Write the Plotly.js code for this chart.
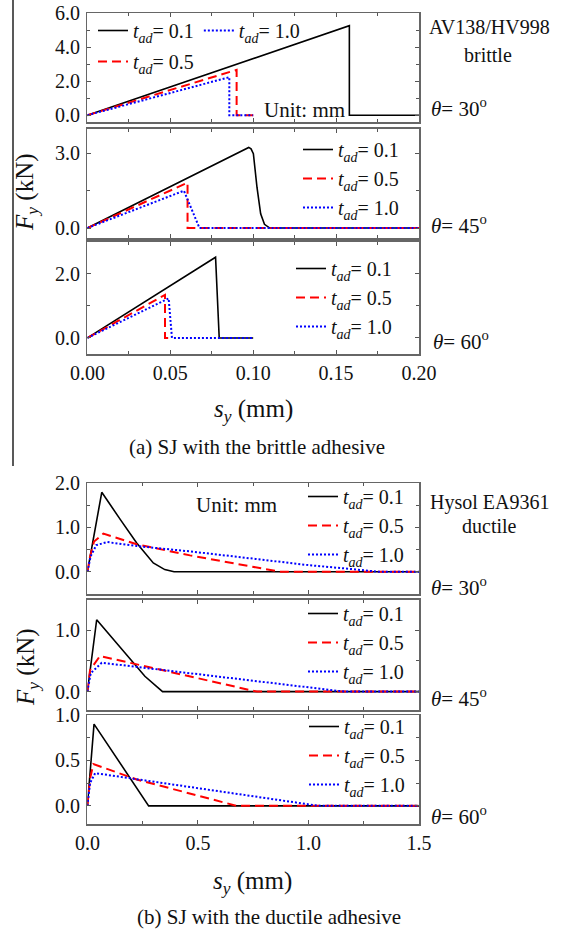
<!DOCTYPE html>
<html>
<head>
<meta charset="utf-8">
<script src="https://cdn.plot.ly/plotly-3.0.1.min.js"></script>
<style>
html,body{margin:0;padding:0;background:#fff;}
#chart{width:571px;height:930px;}
</style>
</head>
<body>
<div id="chart"></div>
<script>
// ---------- DATA ----------
// (a) brittle adhesive AV138/HV998, s_y in mm, F_y in kN
const A30_T01_X = [0, 0.158, 0.158, 0.2];
const A30_T01_Y = [0, 5.27, 0, 0];
const A30_T05_X = [0, 0.090, 0.090, 0.1];
const A30_T05_Y = [0, 2.67, 0, 0];
const A30_T10_X = [0, 0.0856, 0.0856, 0.1];
const A30_T10_Y = [0, 2.24, 0, 0];

const A45_T01_X = [0, 0.0973, 0.0987, 0.1001, 0.1023, 0.1045, 0.1068, 0.1089, 0.110, 0.2];
const A45_T01_Y = [0, 3.24, 3.18, 2.99, 1.63, 0.57, 0.15, 0.03, 0, 0];
const A45_T05_X = [0, 0.0604, 0.0604, 0.2];
const A45_T05_Y = [0, 1.82, 0, 0];
const A45_T10_X = [0, 0.0582, 0.0676, 0.2];
const A45_T10_Y = [0, 1.50, 0, 0];

const A60_T01_X = [0, 0.0773, 0.0795, 0.1];
const A60_T01_Y = [0, 2.51, 0, 0];
const A60_T05_X = [0, 0.0468, 0.0468, 0.05];
const A60_T05_Y = [0, 1.34, 0, 0];
const A60_T10_X = [0, 0.049, 0.051, 0.1];
const A60_T10_Y = [0, 1.23, 0, 0];

// (b) ductile adhesive Hysol EA9361
const B30_T01_X = [0, 0.065, 0.15, 0.223, 0.298, 0.35, 0.392, 1.5];
const B30_T01_Y = [0, 1.79, 1.17, 0.65, 0.20, 0.05, 0, 0];
const B30_T05_X = [0, 0.01, 0.03, 0.072, 0.223, 0.464, 0.873, 1.5];
const B30_T05_Y = [0, 0.30, 0.68, 0.86, 0.62, 0.37, 0, 0];
const B30_T10_X = [0, 0.015, 0.04, 0.09, 0.223, 0.464, 0.76, 1.0, 1.2, 1.318, 1.5];
const B30_T10_Y = [0, 0.35, 0.60, 0.67, 0.58, 0.46, 0.29, 0.15, 0.06, 0, 0];

const B45_T01_X = [0, 0.042, 0.26, 0.34, 1.5];
const B45_T01_Y = [0, 1.17, 0.25, 0, 0];
const B45_T05_X = [0, 0.012, 0.057, 0.766, 1.5];
const B45_T05_Y = [0, 0.35, 0.58, 0, 0];
const B45_T10_X = [0, 0.015, 0.065, 1.161, 1.5];
const B45_T10_Y = [0, 0.30, 0.47, 0, 0];

const B60_T01_X = [0, 0.030, 0.277, 1.5];
const B60_T01_Y = [0, 0.90, 0, 0];
const B60_T05_X = [0, 0.012, 0.027, 0.223, 0.675, 1.5];
const B60_T05_Y = [0, 0.30, 0.46, 0.29, 0, 0];
const B60_T10_X = [0, 0.012, 0.035, 1.046, 1.5];
const B60_T10_Y = [0, 0.25, 0.36, 0, 0];

const SERIES_NAMES = ['<i>t</i><sub><i>ad</i></sub>= 0.1', '<i>t</i><sub><i>ad</i></sub>= 0.5', '<i>t</i><sub><i>ad</i></sub>= 1.0'];
const ANGLE_LABELS = ['<i>θ</i>= 30<sup>o</sup>', '<i>θ</i>= 45<sup>o</sup>', '<i>θ</i>= 60<sup>o</sup>'];

// ---------- STYLE / LAYOUT ----------
const FONT = 'Liberation Serif';
const W = 571, H = 930;
const px2x = p => p / W;
const px2y = p => 1 - p / H;

const STYLES = [
  {color: '#000000', width: 1.6, dash: 'solid'},
  {color: '#ff0000', width: 2, dash: '9px,5px'},
  {color: '#0000ff', width: 2, dash: '2px,2px'}
];

const panels = [
  {sets: [[A30_T01_X, A30_T01_Y], [A30_T05_X, A30_T05_Y], [A30_T10_X, A30_T10_Y]], legends: ['legend', 'legend2', 'legend']},
  {sets: [[A45_T01_X, A45_T01_Y], [A45_T05_X, A45_T05_Y], [A45_T10_X, A45_T10_Y]], legends: ['legend3', 'legend3', 'legend3']},
  {sets: [[A60_T01_X, A60_T01_Y], [A60_T05_X, A60_T05_Y], [A60_T10_X, A60_T10_Y]], legends: ['legend4', 'legend4', 'legend4']},
  {sets: [[B30_T01_X, B30_T01_Y], [B30_T05_X, B30_T05_Y], [B30_T10_X, B30_T10_Y]], legends: ['legend5', 'legend5', 'legend5']},
  {sets: [[B45_T01_X, B45_T01_Y], [B45_T05_X, B45_T05_Y], [B45_T10_X, B45_T10_Y]], legends: ['legend6', 'legend6', 'legend6']},
  {sets: [[B60_T01_X, B60_T01_Y], [B60_T05_X, B60_T05_Y], [B60_T10_X, B60_T10_Y]], legends: ['legend7', 'legend7', 'legend7']}
];

const Y_PX = [[13.3, 122], [128.5, 238], [241.5, 354], [483, 594], [599.5, 710], [715, 824]];
const Y_RANGE = [[-0.4, 6], [-0.4, 4], [-0.5, 3], [-0.5, 2], [-0.3, 1.5], [-0.2, 1]];
const Y_DTICK = [2, 3, 2, 1, 1, 0.5];
const Y_MINOR = [1, 1.5, 1, 0.5, 0.5, 0.25];
const X_DOMAIN = [px2x(87.4), px2x(419)];

const traces = [];
panels.forEach((p, i) => {
  const xs = i === 0 ? 'x' : 'x' + (i + 1);
  const ys = i === 0 ? 'y' : 'y' + (i + 1);
  p.sets.forEach((s, k) => {
    traces.push({
      type: 'scatter', mode: 'lines', x: s[0], y: s[1],
      xaxis: xs, yaxis: ys, name: SERIES_NAMES[k], legend: p.legends[k],
      line: {color: STYLES[k].color, width: STYLES[k].width, dash: STYLES[k].dash},
      hoverinfo: 'skip'
    });
  });
});

const layout = {
  width: W, height: H,
  margin: {l: 0, r: 0, t: 0, b: 0},
  paper_bgcolor: '#ffffff', plot_bgcolor: '#ffffff',
  font: {family: FONT, size: 20, color: '#111'},
  showlegend: true,
  annotations: [], shapes: []
};

const tickFont = {family: FONT, size: 20, color: '#111'};
for (let i = 0; i < 6; i++) {
  const isB = i >= 3;
  const bottom = (i === 2 || i === 5);
  const xk = i === 0 ? 'xaxis' : 'xaxis' + (i + 1);
  const yk = i === 0 ? 'yaxis' : 'yaxis' + (i + 1);
  const ya = i === 0 ? 'y' : 'y' + (i + 1);
  const xa = i === 0 ? 'x' : 'x' + (i + 1);
  layout[xk] = {
    domain: X_DOMAIN, anchor: ya,
    range: isB ? [0, 1.5] : [0, 0.2],
    tick0: 0, dtick: isB ? 0.5 : 0.05,
    tickformat: isB ? '.1f' : '.2f',
    showticklabels: bottom,
    ticks: 'inside', ticklen: 4, tickwidth: 1, tickcolor: '#555',
    minor: {dtick: isB ? 0.25 : 0.025, ticks: 'inside', ticklen: 3, tickcolor: '#555'},
    showline: true, linecolor: '#666', linewidth: 1.5, mirror: 'ticks',
    showgrid: false, zeroline: false, tickfont: tickFont, automargin: false,
    fixedrange: true
  };
  layout[yk] = {
    domain: [px2y(Y_PX[i][1]), px2y(Y_PX[i][0])], anchor: xa,
    range: Y_RANGE[i], tick0: 0, dtick: Y_DTICK[i], tickformat: '.1f',
    ticks: 'inside', ticklen: 4, tickwidth: 1, tickcolor: '#555',
    minor: {dtick: Y_MINOR[i], ticks: 'inside', ticklen: 3, tickcolor: '#555'},
    showline: true, linecolor: '#666', linewidth: 1.5, mirror: 'ticks',
    showgrid: false, zeroline: false, tickfont: tickFont, automargin: false,
    ticklabelstandoff: 2, fixedrange: true
  };
}

// legends
const legFont = {family: FONT, size: 20, color: '#111'};
const legBase = {bgcolor: 'rgba(0,0,0,0)', borderwidth: 0, font: legFont, xanchor: 'left', yanchor: 'top', tracegroupgap: 0};
layout.legend  = Object.assign({}, legBase, {x: px2x(93), y: px2y(11), orientation: 'h'});
layout.legend2 = Object.assign({}, legBase, {x: px2x(93), y: px2y(42)});
layout.legend3 = Object.assign({}, legBase, {x: px2x(298), y: px2y(130)});
layout.legend4 = Object.assign({}, legBase, {x: px2x(291), y: px2y(249)});
layout.legend5 = Object.assign({}, legBase, {x: px2x(303), y: px2y(477)});
layout.legend6 = Object.assign({}, legBase, {x: px2x(303), y: px2y(594)});
layout.legend7 = Object.assign({}, legBase, {x: px2x(304), y: px2y(707)});

function ann(text, xpx, ypx, size, extra) {
  layout.annotations.push(Object.assign({
    text: text, xref: 'paper', yref: 'paper', x: px2x(xpx), y: px2y(ypx),
    xanchor: 'center', yanchor: 'middle', showarrow: false,
    font: {family: FONT, size: size, color: '#111'}
  }, extra || {}));
}

// right-side labels
ann('AV138/HV998', 489, 27, 20);
ann('brittle', 488, 55, 20);
ann(ANGLE_LABELS[0], 459, 108, 21);
ann(ANGLE_LABELS[1], 459, 224, 21);
ann(ANGLE_LABELS[2], 461, 340, 21);
ann('Hysol EA9361', 489, 502, 20);
ann('ductile', 489, 526, 20);
ann(ANGLE_LABELS[0], 459, 586, 21);
ann(ANGLE_LABELS[1], 459, 697, 21);
ann(ANGLE_LABELS[2], 459, 815, 21);
// unit notes
ann('Unit: mm', 304, 110, 21);
ann('Unit: mm', 236, 505, 21);
// axis titles
ann('<i>F</i><sub><i>y</i></sub> (kN)', 27, 192, 25, {textangle: -90});
ann('<i>F</i><sub><i>y</i></sub> (kN)', 27, 667, 25, {textangle: -90});
ann('<i>s</i><sub><i>y</i></sub> (mm)', 253, 410, 25);
ann('<i>s</i><sub><i>y</i></sub> (mm)', 252, 882, 25);
// captions
ann('(a) SJ with the brittle adhesive', 257, 447, 21);
ann('(b) SJ with the ductile adhesive', 269, 917, 21);

// left border line of the scanned figure
layout.shapes.push({type: 'line', xref: 'paper', yref: 'paper', x0: px2x(13), x1: px2x(13), y0: 1, y1: px2y(466), line: {color: '#222', width: 1.5}});

Plotly.newPlot('chart', traces, layout, {staticPlot: true, displayModeBar: false});
</script>
</body>
</html>
